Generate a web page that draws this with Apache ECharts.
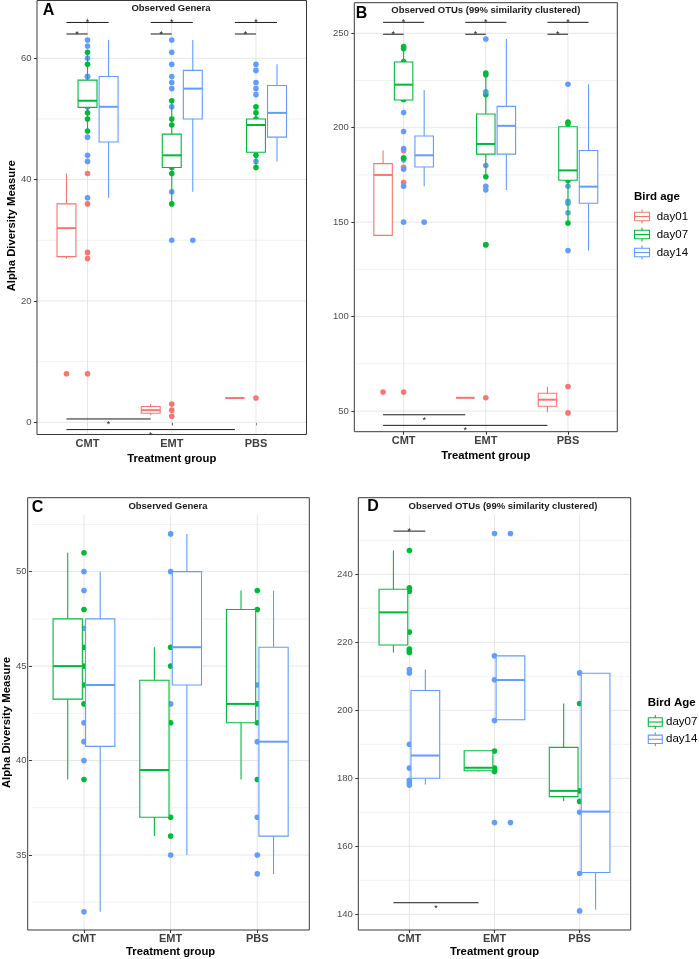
<!DOCTYPE html>
<html><head><meta charset="utf-8">
<script src="https://cdn.jsdelivr.net/npm/echarts@6/dist/echarts.min.js"></script>
<style>html,body{margin:0;padding:0;background:#fff}#c{width:699px;height:959px}</style>
</head><body><div id="c"></div>
<script>
// ---------------- DATA ----------------
const groups = ['CMT', 'EMT', 'PBS'];
const agesABC = ['day01', 'day07', 'day14'];
const agesD = ['day07', 'day14'];

// tick labels / gridlines
const majorA = [0, 20, 40, 60];          const minorA = [10, 30, 50];
const majorB = [50, 100, 150, 200, 250]; const minorB = [75, 125, 175, 225];
const majorC = [35, 40, 45, 50];         const minorC = [32.5, 37.5, 42.5, 47.5, 52.5];
const majorD = [140, 160, 180, 200, 220, 240]; const minorD = [150, 170, 190, 210, 230, 250];

// boxes: [groupIndex, lowerWhisker, q1, median, q3, upperWhisker]
const boxA01 = [[0, 27, 27.3, 32, 36, 41], [1, 1.2, 1.5, 2, 2.6, 3], [2, 4, 4, 4, 4, 4]];
const boxA07 = [[0, 48, 51.9, 53, 56.4, 61], [1, 36, 42, 44, 47.5, 53], [2, 42, 44.5, 49, 50, 52]];
const boxA14 = [[0, 37, 46.2, 52, 57, 63], [1, 38, 50, 55, 58, 63], [2, 43, 47, 51, 55.5, 59]];
// outliers drawn by the boxplots: [groupIndex, value]
const outA01 = [[0, 8]];
const outA07 = [];
const outA14 = [[1, 30]];
// raw points: [groupIndex, value]
const ptsA01 = [[0, 41], [0, 36], [0, 28], [0, 27], [0, 8], [1, 3], [1, 2], [1, 1], [2, 4]];
const ptsA07 = [[0, 61], [0, 59], [0, 57], [0, 53], [0, 52], [0, 51], [0, 50], [0, 48],
  [1, 53], [1, 50], [1, 49], [1, 47], [1, 44], [1, 42], [1, 41], [1, 36],
  [2, 52], [2, 51], [2, 50], [2, 49], [2, 44], [2, 42]];
const ptsA14 = [[0, 63], [0, 62], [0, 60], [0, 57], [0, 52], [0, 47], [0, 44], [0, 43], [0, 37],
  [1, 63], [1, 61], [1, 59], [1, 57], [1, 56], [1, 55], [1, 52], [1, 38], [1, 30],
  [2, 59], [2, 58], [2, 56], [2, 55], [2, 54], [2, 43]];

const boxB01 = [[0, 143, 143, 175, 181, 188], [1, 57, 57, 57, 57, 57], [2, 49.3, 52.5, 56, 59.4, 62.9]];
const boxB07 = [[0, 214.7, 214.7, 222.8, 234.8, 243], [1, 174, 186, 191.4, 207.3, 229], [2, 149.5, 172.2, 177.4, 200.5, 202.6]];
const boxB14 = [[0, 169, 179.2, 185.4, 195.6, 220], [1, 167, 186, 201, 211.3, 247], [2, 135, 160, 168.8, 187.9, 223]];
const outB01 = [[0, 60]];
const outB07 = [[0, 184], [1, 138]];
const outB14 = [[0, 150]];
const ptsB01 = [[0, 188], [0, 179], [0, 171], [0, 60], [1, 57], [2, 63], [2, 49]];
const ptsB07 = [[0, 243], [0, 242], [0, 235], [0, 223], [0, 215], [0, 184],
  [1, 229], [1, 228], [1, 217.5], [1, 200], [1, 191], [1, 174], [1, 138],
  [2, 203], [2, 202], [2, 190], [2, 177], [2, 172], [2, 149.5]];
const ptsB14 = [[0, 220], [0, 208], [0, 198], [0, 189], [0, 183], [0, 178], [0, 169], [0, 150],
  [1, 247], [1, 219], [1, 201], [1, 180], [1, 169], [1, 167],
  [2, 223], [2, 188], [2, 169], [2, 161], [2, 160], [2, 155], [2, 135]];

const boxC07 = [[0, 39, 43.25, 45, 47.5, 51], [1, 36, 37, 39.5, 44.25, 46], [2, 39, 42, 43, 48, 49]];
const boxC14 = [[0, 32, 40.75, 44, 47.5, 50], [1, 35, 44, 46, 50, 52], [2, 34, 36, 41, 46, 49]];
const outC07 = [];
const outC14 = [];
const ptsC07 = [[0, 51], [0, 48], [0, 46], [0, 45], [0, 44], [0, 43], [0, 39],
  [1, 46], [1, 45], [1, 42], [1, 37], [1, 36],
  [2, 49], [2, 48], [2, 43], [2, 42], [2, 39]];
const ptsC14 = [[0, 50], [0, 49], [0, 47], [0, 42], [0, 41], [0, 40], [0, 32],
  [1, 52], [1, 50], [1, 43], [1, 35],
  [2, 44], [2, 41], [2, 37], [2, 35], [2, 34]];

const boxD07 = [[0, 217, 219.2, 228.8, 235.6, 247], [1, 182, 182.2, 183.1, 188.1, 188], [2, 173.3, 174.6, 176.3, 189.1, 202]];
const boxD14 = [[0, 178.2, 180, 186.7, 205.8, 212], [1, 197.2, 197.2, 208.9, 216, 216], [2, 141.3, 152.3, 170.2, 210.9, 211]];
const outD07 = [];
const outD14 = [[1, 252], [1, 167]];
const ptsD07 = [[0, 247], [0, 236], [0, 235], [0, 223], [0, 218], [0, 217.5], [0, 217],
  [1, 188], [1, 183], [1, 182.6], [1, 182], [2, 202], [2, 176.3], [2, 173.2]];
const ptsD14 = [[0, 212], [0, 211], [0, 190], [0, 183], [0, 179.4], [0, 178.7], [0, 178],
  [1, 252], [1, 216], [1, 209], [1, 197], [1, 167], [2, 211], [2, 170], [2, 152], [2, 141]];

// significance bars: [group1, age1, group2, age2, yLevel, starSide(1 above, -1 below)]
const sigA = [[0, 0, 0, 2, 65.9, 1], [0, 0, 0, 1, 64.0, 1], [1, 0, 1, 2, 65.9, 1], [1, 0, 1, 1, 64.0, 1],
  [2, 0, 2, 2, 65.9, 1], [2, 0, 2, 1, 64.0, 1], [0, 0, 1, 0, 0.55, -1], [0, 0, 2, 0, -1.2, -1]];
const sigB = [[0, 0, 0, 2, 255.8, 1], [0, 0, 0, 1, 249.5, 1], [1, 0, 1, 2, 255.8, 1], [1, 0, 1, 1, 249.5, 1],
  [2, 0, 2, 2, 255.8, 1], [2, 0, 2, 1, 249.5, 1], [0, 0, 1, 0, 48.0, -1], [0, 0, 2, 0, 42.4, -1]];
const sigC = [];
const sigD = [[0, 0, 0, 1, 252.7, 1], [0, 0, 1, 0, 143.4, -1]];

// ---------------- STYLE / LAYOUT ----------------
const COLORS = { day01: '#F8766D', day07: '#00BA38', day14: '#619CFF' };
const FONT = '"Liberation Sans", Arial, Helvetica, sans-serif';

const panels = [
  { ages: agesABC, boxes: [boxA01, boxA07, boxA14], outs: [outA01, outA07, outA14], pts: [ptsA01, ptsA07, ptsA14], sig: sigA,
    yMin: -2.01, yMax: 66.8, major: majorA, minor: minorA, title: 'Observed Genera', letter: 'A', yName: true,
    left: 37, top: 17, width: 269.5, height: 417.5, frameTop: 0.5, titleX: 171, titleY: 8.7, letterX: 48.5, letterY: 10.5,
    xNameGap: 19, yNameGap: 17, labelMargin: 4 },
  { ages: agesABC, boxes: [boxB01, boxB07, boxB14], outs: [outB01, outB07, outB14], pts: [ptsB01, ptsB07, ptsB14], sig: sigB,
    yMin: 39.04, yMax: 257.04, major: majorB, minor: minorB, title: 'Observed OTUs (99% similarity clustered)', letter: 'B', yName: false,
    left: 354.3, top: 20, width: 263, height: 411.7, frameTop: 2.7, titleX: 485.8, titleY: 10.7, letterX: 361.5, letterY: 14,
    xNameGap: 18.8, yNameGap: 17.5, labelMargin: 4 },
  { ages: agesD, boxes: [boxC07, boxC14], outs: [outC07, outC14], pts: [ptsC07, ptsC14], sig: sigC,
    yMin: 31.03, yMax: 53.0, major: majorC, minor: minorC, title: 'Observed Genera', letter: 'C', yName: true,
    left: 27.7, top: 515, width: 281.6, height: 415, frameTop: 497.7, titleX: 168, titleY: 506.7, letterX: 37.5, letterY: 507.5,
    xNameGap: 16.5, yNameGap: 15, labelMargin: 3.8 },
  { ages: agesD, boxes: [boxD07, boxD14], outs: [outD07, outD14], pts: [ptsD07, ptsD14], sig: sigD,
    yMin: 135.38, yMax: 257.44, major: majorD, minor: minorD, title: 'Observed OTUs (99% similarity clustered)', letter: 'D', yName: false,
    left: 358.3, top: 515, width: 272.4, height: 415, frameTop: 497.7, titleX: 503, titleY: 506.3, letterX: 373, letterY: 507,
    xNameGap: 16.2, yNameGap: 15.5, labelMargin: 3.8 }
];

function dodge(nAges) {
  const slot = 0.75 / nAges;
  const offs = [];
  for (let i = 0; i < nAges; i++) offs.push(-0.375 + slot * (i + 0.5));
  return { offs, boxW: slot * 0.9 };
}

const grids = [], xAxes = [], yAxes = [], series = [], graphics = [];

panels.forEach((p, i) => {
  const dg = dodge(p.ages.length);
  grids.push({ left: p.left, top: p.top, width: p.width, height: p.height, show: false, containLabel: false });
  xAxes.push({
    gridIndex: i, type: 'value', min: 0.4, max: 3.6,
    axisLine: { show: false },
    axisTick: { show: true, length: 3, customValues: [1, 2, 3], lineStyle: { color: '#333', width: 1 } },
    axisLabel: { show: true, customValues: [1, 2, 3], margin: p.labelMargin,
      formatter: v => groups[Math.round(v) - 1], fontFamily: FONT, fontSize: 11, fontWeight: 'bold', color: '#3f3f3f' },
    splitLine: { show: false },
    name: 'Treatment group', nameLocation: 'middle', nameGap: p.xNameGap,
    nameTextStyle: { fontFamily: FONT, fontSize: 11.3, fontWeight: 'bold', color: '#000' }
  });
  yAxes.push({
    gridIndex: i, type: 'value', min: p.yMin, max: p.yMax,
    axisLine: { show: false },
    axisTick: { show: true, length: 3, customValues: p.major, lineStyle: { color: '#333', width: 1 } },
    axisLabel: { show: true, customValues: p.major, margin: 5.5, fontFamily: FONT, fontSize: 9.5, color: '#4d4d4d' },
    splitLine: { show: false },
    name: p.yName ? 'Alpha Diversity Measure' : '', nameLocation: 'middle', nameGap: p.yNameGap,
    nameTextStyle: { fontFamily: FONT, fontSize: 11.3, fontWeight: 'bold', color: '#000' }
  });

  // gridlines drawn through the axes' scales: [value, orientation(0 = horizontal, 1 = vertical), major(1)/minor(0)]
  const gl = [];
  p.minor.forEach(v => gl.push([v, 0, 0]));
  p.major.forEach(v => gl.push([v, 0, 1]));
  [1, 2, 3].forEach(v => gl.push([v, 1, 1]));
  series.push({
    type: 'custom', name: 'grid', xAxisIndex: i, yAxisIndex: i, z: 1, animation: false, silent: true,
    data: gl,
    renderItem: function (params, api) {
      const cs = params.coordSys;
      const v = api.value(0), vert = api.value(1), major = api.value(2);
      const stroke = major ? '#e6e6e6' : '#f2f2f2';
      if (vert) {
        const px = api.coord([v, p.yMin])[0];
        return { type: 'line', shape: { x1: px, y1: cs.y, x2: px, y2: cs.y + cs.height }, style: { stroke, lineWidth: 1 } };
      }
      const py = api.coord([1, v])[1];
      return { type: 'line', shape: { x1: cs.x, y1: py, x2: cs.x + cs.width, y2: py }, style: { stroke, lineWidth: 1 } };
    }
  });

  p.ages.forEach((age, a) => {
    const col = COLORS[age];
    // raw points at category centre
    series.push({
      type: 'scatter', name: age, xAxisIndex: i, yAxisIndex: i, z: 2, symbolSize: 5.6, animation: false,
      itemStyle: { color: col, opacity: 1 },
      data: p.pts[a].map(d => [d[0] + 1, d[1]])
    });
    // boxes
    const off = dg.offs[a], bw = dg.boxW;
    series.push({
      type: 'custom', name: age + ' box', xAxisIndex: i, yAxisIndex: i, z: 3, animation: false,
      data: p.boxes[a],
      renderItem: function (params, api) {
        const xc = api.value(0) + 1 + off;
        const lo = api.value(1), q1 = api.value(2), md = api.value(3), q3 = api.value(4), hi = api.value(5);
        const pLo = api.coord([xc, lo]), pQ1 = api.coord([xc, q1]), pQ3 = api.coord([xc, q3]), pHi = api.coord([xc, hi]);
        const tl = api.coord([xc - bw / 2, q3]), br = api.coord([xc + bw / 2, q1]);
        const ml1 = api.coord([xc - bw / 2, md]), ml2 = api.coord([xc + bw / 2, md]);
        return {
          type: 'group', children: [
            { type: 'line', shape: { x1: pLo[0], y1: pLo[1], x2: pQ1[0], y2: pQ1[1] }, style: { stroke: col, lineWidth: 1.1 } },
            { type: 'line', shape: { x1: pQ3[0], y1: pQ3[1], x2: pHi[0], y2: pHi[1] }, style: { stroke: col, lineWidth: 1.1 } },
            { type: 'rect', shape: { x: tl[0], y: tl[1], width: br[0] - tl[0], height: br[1] - tl[1] }, style: { fill: '#fff', stroke: col, lineWidth: 1.1 } },
            { type: 'line', shape: { x1: ml1[0], y1: ml1[1], x2: ml2[0], y2: ml2[1] }, style: { stroke: col, lineWidth: 2 } }
          ]
        };
      }
    });
    // outliers at dodged position
    series.push({
      type: 'scatter', name: age + ' outliers', xAxisIndex: i, yAxisIndex: i, z: 4, symbolSize: 5.6, animation: false,
      itemStyle: { color: col, opacity: 1 },
      data: p.outs[a].map(d => [d[0] + 1 + off, d[1]])
    });
  });

  // significance bars
  series.push({
    type: 'custom', name: 'signif', xAxisIndex: i, yAxisIndex: i, z: 5, animation: false, silent: true,
    data: p.sig,
    renderItem: function (params, api) {
      const x1 = api.value(0) + 1 + dg.offs[api.value(1)];
      const x2 = api.value(2) + 1 + dg.offs[api.value(3)];
      const y = api.value(4), side = api.value(5);
      const a = api.coord([x1, y]), b = api.coord([x2, y]);
      const mx = (a[0] + b[0]) / 2;
      return {
        type: 'group', children: [
          { type: 'line', shape: { x1: a[0], y1: a[1], x2: b[0], y2: b[1] }, style: { stroke: '#1a1a1a', lineWidth: 1 } },
          { type: 'text', x: mx, y: side > 0 ? a[1] + 0.5 : a[1] + 5.5,
            style: { text: '*', fontSize: 9, fontFamily: FONT, fill: '#1a1a1a', align: 'center', verticalAlign: 'middle' } }
        ]
      };
    }
  });

  // frame, strip title, panel letter
  graphics.push({ type: 'rect', silent: true, z: 100,
    shape: { x: p.left, y: p.frameTop, width: p.width, height: p.top + p.height - p.frameTop },
    style: { fill: 'none', stroke: '#3a3a3a', lineWidth: 1 } });
  graphics.push({ type: 'text', silent: true, z: 100, x: p.titleX, y: p.titleY,
    style: { text: p.title, fontFamily: FONT, fontSize: 9.5, fontWeight: 'bold', fill: '#1a1a1a', align: 'center', verticalAlign: 'middle' } });
  graphics.push({ type: 'text', silent: true, z: 100, x: p.letterX, y: p.letterY,
    style: { text: p.letter, fontFamily: FONT, fontSize: 16, fontWeight: 'bold', fill: '#000', align: 'center', verticalAlign: 'middle' } });
});

// legends
function legendGlyph(cx, cy, w, color) {
  return [
    { type: 'line', silent: true, z: 100, shape: { x1: cx, y1: cy - 7, x2: cx, y2: cy + 7 }, style: { stroke: color, lineWidth: 1.1 } },
    { type: 'rect', silent: true, z: 101, shape: { x: cx - w / 2, y: cy - 4.2, width: w, height: 8.4 }, style: { fill: '#fff', stroke: color, lineWidth: 1.1 } },
    { type: 'line', silent: true, z: 102, shape: { x1: cx - w / 2, y1: cy, x2: cx + w / 2, y2: cy }, style: { stroke: color, lineWidth: 1.1 } }
  ];
}
function legend(title, tx, ty, items, gx, tx2, w) {
  graphics.push({ type: 'text', silent: true, z: 100, x: tx, y: ty,
    style: { text: title, fontFamily: FONT, fontSize: 11.5, fontWeight: 'bold', fill: '#000', align: 'left', verticalAlign: 'middle' } });
  items.forEach(it => {
    legendGlyph(gx, it.y, w, COLORS[it.age]).forEach(g => graphics.push(g));
    graphics.push({ type: 'text', silent: true, z: 100, x: tx2, y: it.y,
      style: { text: it.age, fontFamily: FONT, fontSize: 11.5, fill: '#000', align: 'left', verticalAlign: 'middle' } });
  });
}
legend('Bird age', 634, 196.7, [{ age: 'day01', y: 216.5 }, { age: 'day07', y: 234.5 }, { age: 'day14', y: 252.5 }], 642, 656.7, 15);
legend('Bird Age', 647.7, 702.7, [{ age: 'day07', y: 722 }, { age: 'day14', y: 739.3 }], 655.3, 666, 14);

const chart = echarts.init(document.getElementById('c'), null, { renderer: 'canvas' });
chart.setOption({
  animation: false,
  backgroundColor: '#fff',
  grid: grids, xAxis: xAxes, yAxis: yAxes, series: series,
  graphic: graphics
});
</script></body></html>
